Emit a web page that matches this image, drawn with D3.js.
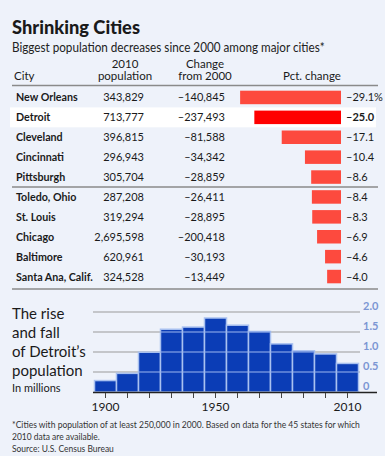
<!DOCTYPE html>
<html>
<head>
<meta charset="utf-8">
<script src="https://cdn.jsdelivr.net/npm/d3@7"></script>
<style>
  body { margin: 0; background: #eef2fa; }
  svg { display: block; }
  text { font-family: Lato, "Liberation Sans", sans-serif; fill: #1a1a1a; }
</style>
</head>
<body>
<div id="chart"></div>
<script>
const cities = ["New Orleans", "Detroit", "Cleveland", "Cincinnati", "Pittsburgh",
  "Toledo, Ohio", "St. Louis", "Chicago", "Baltimore", "Santa Ana, Calif."];
const pop2010 = [343829, 713777, 396815, 296943, 305704, 287208, 319294, 2695598, 620961, 324528];
const change2000 = [-140845, -237493, -81588, -34342, -28859, -26411, -28895, -200418, -30193, -13449];
const pctChange = [-29.1, -25.0, -17.1, -10.4, -8.6, -8.4, -8.3, -6.9, -4.6, -4.0];

const years = [1900, 1910, 1920, 1930, 1940, 1950, 1960, 1970, 1980, 1990, 2000, 2010];
const detroitPop = [0.286, 0.466, 0.994, 1.569, 1.623, 1.850, 1.670, 1.514, 1.203, 1.028, 0.951, 0.714];
const popTicks = [0, 0.5, 1.0, 1.5, 2.0];
const yearLabels = [1900, 1950, 2010];

const width = 385;
const height = 456;
const highlight = "Detroit";

const svg = d3.select("#chart")
  .append("svg")
  .attr("width", width)
  .attr("height", height);

svg.append("rect")
  .attr("width", width)
  .attr("height", height)
  .attr("fill", "#eef2fa");

// squeeze a text horizontally so it fits the width it has in the original
function fitWidth(sel, target) {
  sel.each(function () {
    const w = this.getComputedTextLength();
    const x0 = +this.getAttribute("x");
    const y0 = +this.getAttribute("y");
    const t = typeof target === "function" ? target.apply(this, arguments) : target;
    d3.select(this)
      .attr("x", 0).attr("y", 0)
      .attr("transform", `translate(${x0},${y0}) scale(${t / w},1)`);
  });
}

// Title
svg.append("text")
  .attr("x", 12)
  .attr("y", 34)
  .style("font-size", "18.5px")
  .style("font-weight", "900")
  .text("Shrinking Cities")
  .call(fitWidth, 128);

svg.append("text")
  .attr("x", 12)
  .attr("y", 52)
  .style("font-size", "12.5px")
  .style("fill", "#222")
  .text("Biggest population decreases since 2000 among major cities*")
  .call(fitWidth, 313);

// Table
const rows = cities.map((c, i) => ({
  city: c, pop: pop2010[i], change: change2000[i], pct: pctChange[i]
}));

const y = d3.scaleBand()
  .domain(cities)
  .range([87.5, 286.5]);

const pctX = d3.scaleLinear()
  .domain([-30, 0])
  .range([237, 341]);

const fmt = d3.format(",");
const minus = v => (v < 0 ? "\u2013" : "") + fmt(Math.abs(v));

// Header
const header = svg.append("g").style("font-size", "11.5px");
header.append("text").attr("x", 14).attr("y", 80).text("City");
header.append("text").attr("x", 125).attr("y", 67.5).attr("text-anchor", "middle").text("2010");
header.append("text").attr("x", 125).attr("y", 80).attr("text-anchor", "middle").text("population");
header.append("text").attr("x", 205).attr("y", 67.5).attr("text-anchor", "middle").text("Change");
header.append("text").attr("x", 205).attr("y", 80).attr("text-anchor", "middle").text("from 2000");
header.append("text").attr("x", 312).attr("y", 80).attr("text-anchor", "middle").text("Pct. change");

// Detroit highlight band
svg.append("rect")
  .attr("x", 10)
  .attr("y", y(highlight))
  .attr("width", 366)
  .attr("height", y.bandwidth())
  .attr("fill", "#fff");

const rowG = svg.append("g")
  .selectAll("g")
  .data(rows)
  .enter()
  .append("g")
  .attr("transform", d => `translate(0, ${y(d.city) + y.bandwidth() / 2})`);

rowG.append("text")
  .attr("x", 16)
  .attr("y", 4)
  .style("font-size", "10.7px")
  .style("font-weight", "bold")
  .text(d => d.city);

rowG.append("text")
  .attr("x", 144)
  .attr("y", 4)
  .attr("text-anchor", "end")
  .style("font-size", "11px")
  .text(d => fmt(d.pop));

rowG.append("text")
  .attr("x", 225)
  .attr("y", 4)
  .attr("text-anchor", "end")
  .style("font-size", "11px")
  .text(d => minus(d.change));

rowG.append("rect")
  .attr("x", d => pctX(d.pct))
  .attr("y", -6.75)
  .attr("width", d => pctX(0) - pctX(d.pct))
  .attr("height", 13.5)
  .attr("fill", d => d.city === highlight ? "#ff0000" : "#fd4a3e");

rowG.append("text")
  .attr("x", 346)
  .attr("y", 4)
  .style("font-size", "11px")
  .style("font-weight", d => d.city === highlight ? "bold" : "normal")
  .text((d, i) => "\u2013" + d3.format(".1f")(Math.abs(d.pct)) + (i === 0 ? "%" : ""));

// Rules
const rule = (yy, w) => svg.append("line")
  .attr("x1", 12).attr("x2", 378)
  .attr("y1", yy).attr("y2", yy)
  .attr("stroke", "#8a8a8a")
  .attr("stroke-width", w);

rule(85.5, 1.5);
rule(y("Toledo, Ohio"), 1.5);
rule(289, 1.5);

// Detroit population chart
const x = d3.scaleBand()
  .domain(years)
  .range([94.5, 358.5]);

const yPop = d3.scaleLinear()
  .domain([0, 2])
  .range([392, 312]);

svg.append("g")
  .selectAll("line")
  .data(popTicks.filter(t => t > 0))
  .enter()
  .append("line")
  .attr("x1", 93).attr("x2", 360)
  .attr("y1", d => yPop(d)).attr("y2", d => yPop(d))
  .attr("stroke", "#9a9a9a")
  .attr("stroke-width", 1.2);

const bars = svg.append("g")
  .selectAll("g")
  .data(years.map((yr, i) => ({ year: yr, value: detroitPop[i] })))
  .enter()
  .append("g");

bars.append("rect")
  .attr("x", d => x(d.year))
  .attr("y", d => yPop(d.value))
  .attr("width", x.bandwidth())
  .attr("height", d => yPop(0) - yPop(d.value))
  .attr("fill", "#0b3db6")
  .attr("stroke", "#a9c1f0")
  .attr("stroke-width", 1.5);

// gridlines showing through the bars
bars.each(function (d) {
  d3.select(this).selectAll("line")
    .data(popTicks.filter(t => t > 0 && t < d.value))
    .enter()
    .append("line")
    .attr("x1", x(d.year)).attr("x2", x(d.year) + x.bandwidth())
    .attr("y1", t => yPop(t)).attr("y2", t => yPop(t))
    .attr("stroke", "#85a3e6")
    .attr("stroke-width", 1.2);
});

svg.append("line")
  .attr("x1", 93).attr("x2", 377)
  .attr("y1", yPop(0) + 0.5).attr("y2", yPop(0) + 0.5)
  .attr("stroke", "#222")
  .attr("stroke-width", 1.5);

svg.append("g")
  .selectAll("line")
  .data(years)
  .enter()
  .append("line")
  .attr("x1", d => x(d) + x.bandwidth() / 2)
  .attr("x2", d => x(d) + x.bandwidth() / 2)
  .attr("y1", yPop(0) + 1)
  .attr("y2", yPop(0) + 6)
  .attr("stroke", "#444")
  .attr("stroke-width", 1);

svg.append("g")
  .selectAll("text")
  .data(yearLabels)
  .enter()
  .append("text")
  .attr("x", d => x(d) + x.bandwidth() / 2)
  .attr("y", 411)
  .attr("text-anchor", "middle")
  .style("font-size", "12px")
  .text(d => d);

svg.append("g")
  .selectAll("text")
  .data(popTicks)
  .enter()
  .append("text")
  .attr("x", 363)
  .attr("y", d => yPop(d) - 2)
  .style("font-size", "11px")
  .style("font-weight", "bold")
  .style("fill", "#7b96d3")
  .text(d => d === 0 ? "0" : d3.format(".1f")(d));

// Left-hand chart title
const lines = ["The rise", "and fall", "of Detroit\u2019s", "population"];
svg.append("g")
  .selectAll("text")
  .data(lines)
  .enter()
  .append("text")
  .attr("x", 12)
  .attr("y", (d, i) => 319 + i * 19)
  .style("font-size", "15px")
  .text(d => d);

svg.append("text")
  .attr("x", 12)
  .attr("y", 392)
  .style("font-size", "11px")
  .text("In millions");

// Footnote
const notes = [
  "*Cities with population of at least 250,000 in 2000. Based on data for the 45 states for which",
  "2010 data are available.",
  "Source: U.S. Census Bureau"
];
const noteWidths = [348, 88, 102];
svg.append("g")
  .selectAll("text")
  .data(notes)
  .enter()
  .append("text")
  .attr("x", 12)
  .attr("y", (d, i) => 428 + i * 12)
  .style("font-size", "10px")
  .style("fill", "#333")
  .text(d => d)
  .call(fitWidth, (d, i) => noteWidths[i]);
</script>
</body>
</html>
